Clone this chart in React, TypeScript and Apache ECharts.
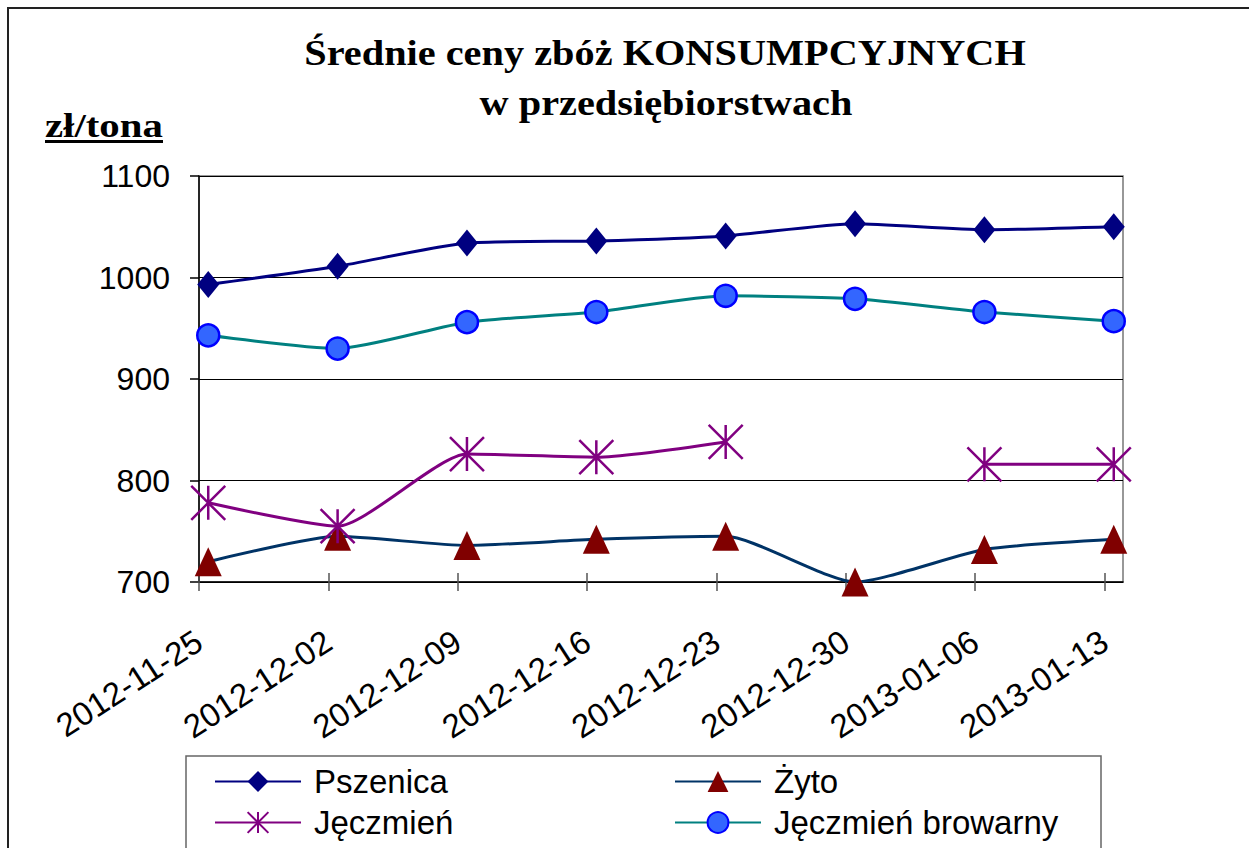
import React, { useEffect, useRef } from "react";
import * as echarts from "echarts";

// ---- data ----
const dates = [
  "2012-11-25",
  "2012-12-02",
  "2012-12-09",
  "2012-12-16",
  "2012-12-23",
  "2012-12-30",
  "2013-01-06",
  "2013-01-13",
];
const axisEndDate = "2013-01-14";
const seriesNames = ["Pszenica", "Żyto", "Jęczmień", "Jęczmień browarny"];
const pszenica = [993, 1011, 1034, 1036, 1041, 1053, 1047, 1050];
const zyto = [720, 745, 736, 742, 745, 700, 732, 742];
const jeczmien = [778, 755, 826, 823, 838, null, 816, 816];
const jeczmienBrowarny = [943, 930, 956, 966, 982, 979, 966, 957];
const yMin = 700;
const yMax = 1100;
const yStep = 100;
const titleLines = ["Średnie ceny zbóż KONSUMPCYJNYCH", "w przedsiębiorstwach"];
const unitLabel = "zł/tona";

const DAY = 86400000;
const t0 = Date.parse(dates[0] + "T00:00:00Z");
const dayIndex = (d: string) => (Date.parse(d + "T00:00:00Z") - t0) / DAY;
const xMax = dayIndex(axisEndDate);
const tickValues = dates.map(dayIndex);
const fmtDate = (v: number) =>
  new Date(t0 + Math.round(v) * DAY).toISOString().slice(0, 10);
const pts = (vals: (number | null)[]) =>
  dates.map((d, i) => [dayIndex(d) + 0.5, vals[i] === null ? null : vals[i]]);

const asterisk = "path://M0 0L10 10M10 0L0 10M5 0L5 10";

export default function App() {
  const ref = useRef<HTMLDivElement>(null);
  useEffect(() => {
    if (!ref.current) return;
    const chart = echarts.init(ref.current, undefined, { renderer: "svg" });
    const sans = "Liberation Sans";
    const serif = "Liberation Serif";
    const gridRect = { left: 199, top: 176, width: 924, height: 406 };
    const legendText = {
      fontFamily: sans,
      fontSize: 33,
      lineHeight: 33,
      color: "#000",
      padding: [0, 0, 0, 8],
    };
    const option: any = {
      animation: false,
      backgroundColor: "#fff",
      grid: [
        { ...gridRect, show: true, borderColor: "#777", borderWidth: 1.5, containLabel: false },
        { ...gridRect, show: false, containLabel: false },
      ],
      xAxis: [
        {
          type: "value",
          gridIndex: 0,
          min: 0,
          max: xMax,
          interval: 7,
          axisLine: { show: true, onZero: false, lineStyle: { color: "#000", width: 1.5 } },
          axisTick: {
            show: true,
            length: 9,
            inside: false,
            customValues: tickValues,
            lineStyle: { color: "#555", width: 1.5 },
          },
          axisLabel: {
            customValues: tickValues,
            formatter: (v: number) => fmtDate(v),
            rotate: 33,
            margin: 56,
            fontFamily: sans,
            fontSize: 33,
            color: "#000",
          },
          splitLine: { show: false },
        },
        {
          type: "value",
          gridIndex: 1,
          min: 0,
          max: xMax,
          interval: 7,
          axisLine: { show: false },
          axisTick: {
            show: true,
            length: 9,
            inside: true,
            customValues: tickValues,
            lineStyle: { color: "#555", width: 1.5 },
          },
          axisLabel: { show: false },
          splitLine: { show: false },
        },
      ],
      yAxis: [
        {
          type: "value",
          gridIndex: 0,
          min: yMin,
          max: yMax,
          interval: yStep,
          axisLine: { show: true, lineStyle: { color: "#000", width: 1.5 } },
          axisTick: { show: true, length: 9, lineStyle: { color: "#000", width: 1.5 } },
          axisLabel: {
            margin: 29,
            fontFamily: sans,
            fontSize: 32,
            color: "#000",
            formatter: (v: number) => String(v),
          },
          splitLine: { show: true, lineStyle: { color: "#000", width: 1.2 } },
        },
        {
          type: "value",
          gridIndex: 1,
          min: yMin,
          max: yMax,
          show: false,
        },
      ],
      legend: [
        {
          data: [seriesNames[0], seriesNames[2]],
          orient: "vertical",
          left: 214,
          top: 765,
          padding: 0,
          itemWidth: 86,
          itemHeight: 26,
          itemGap: 8,
          textStyle: legendText,
        },
        {
          data: [seriesNames[1], seriesNames[3]],
          orient: "vertical",
          left: 674,
          top: 765,
          padding: 0,
          itemWidth: 86,
          itemHeight: 26,
          itemGap: 8,
          textStyle: legendText,
        },
      ],
      graphic: [
        {
          type: "rect",
          z: -10,
          shape: { x: 8, y: 8, width: 1400, height: 1000 },
          style: { fill: "none", stroke: "#222", lineWidth: 2 },
          silent: true,
        },
        {
          type: "rect",
          shape: { x: 186, y: 756, width: 915, height: 200 },
          style: { fill: "none", stroke: "#666", lineWidth: 1.5 },
          silent: true,
        },
        {
          type: "text",
          x: 665,
          y: 53,
          scaleX: 1.12,
          style: {
            text: titleLines[0],
            fontFamily: serif,
            fontWeight: "bold",
            fontSize: 36,
            fill: "#000",
            align: "center",
            textAlign: "center",
            verticalAlign: "middle",
            textVerticalAlign: "middle",
          },
        },
        {
          type: "text",
          x: 666,
          y: 103,
          scaleX: 1.12,
          style: {
            text: titleLines[1],
            fontFamily: serif,
            fontWeight: "bold",
            fontSize: 36,
            fill: "#000",
            align: "center",
            textAlign: "center",
            verticalAlign: "middle",
            textVerticalAlign: "middle",
          },
        },
        {
          type: "text",
          x: 45,
          y: 126,
          scaleX: 1.2,
          style: {
            text: unitLabel,
            fontFamily: serif,
            fontWeight: "bold",
            fontSize: 34,
            fill: "#000",
            align: "left",
            textAlign: "left",
            verticalAlign: "middle",
            textVerticalAlign: "middle",
          },
        },
        {
          type: "rect",
          shape: { x: 45, y: 140, width: 118, height: 3 },
          style: { fill: "#000" },
        },
      ],
      series: [
        {
          name: seriesNames[0],
          type: "line",
          smooth: 0.2,
          data: pts(pszenica),
          symbol: "diamond",
          symbolSize: [22, 27],
          lineStyle: { color: "#000080", width: 3 },
          itemStyle: { color: "#000080" },
          z: 2,
        },
        {
          name: seriesNames[1],
          type: "line",
          smooth: 0.2,
          data: pts(zyto),
          symbol: "triangle",
          symbolSize: [27, 29],
          lineStyle: { color: "#003366", width: 3 },
          itemStyle: { color: "#800000" },
          z: 3,
        },
        {
          name: seriesNames[2],
          type: "line",
          smooth: 0.2,
          data: pts(jeczmien),
          connectNulls: false,
          symbol: asterisk,
          symbolSize: [34, 34],
          lineStyle: { color: "#800080", width: 3 },
          itemStyle: { color: "#800080", borderColor: "#800080", borderWidth: 2.5 },
          z: 4,
        },
        {
          name: seriesNames[3],
          type: "line",
          smooth: 0.2,
          data: pts(jeczmienBrowarny),
          symbol: "circle",
          symbolSize: 22,
          lineStyle: { color: "#008080", width: 3 },
          itemStyle: { color: "#3366FF", borderColor: "#0000FF", borderWidth: 2.5 },
          z: 5,
        },
      ],
    };
    chart.setOption(option);
    return () => chart.dispose();
  }, []);
  return (
    <div
      ref={ref}
      style={{ position: "absolute", left: 0, top: 0, width: 1249, height: 848, background: "#fff" }}
    />
  );
}
